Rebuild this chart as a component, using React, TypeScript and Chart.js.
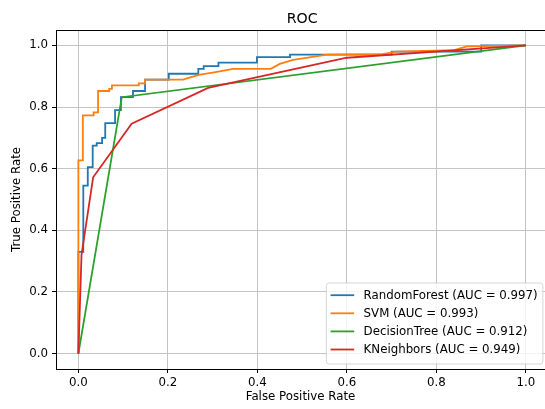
import React, { useEffect, useRef } from "react";
import { Chart, registerables } from "chart.js";

Chart.register(...registerables);

const TITLE = "ROC";
const X_LABEL = "False Positive Rate";
const Y_LABEL = "True Positive Rate";
const TICKS = [0, 0.2, 0.4, 0.6, 0.8, 1.0];
const AXIS_MIN = -0.05;
const AXIS_MAX = 1.05;
const X_VISIBLE_MAX = 1.0427; // the right part of the axes is cropped in the picture

const MODEL_NAMES = ["RandomForest", "SVM", "DecisionTree", "KNeighbors"];
const AUC_VALUES = [0.997, 0.993, 0.912, 0.949];
const COLORS = ["#1f77b4", "#ff7f0e", "#2ca02c", "#d62728"];

const RF_FPR = [0, 0, 0.011, 0.011, 0.021, 0.021, 0.032, 0.032, 0.041, 0.041, 0.053, 0.053, 0.06, 0.06, 0.082, 0.082, 0.095, 0.095, 0.122, 0.122, 0.149, 0.149, 0.202, 0.202, 0.268, 0.268, 0.28, 0.28, 0.313, 0.313, 0.399, 0.399, 0.473, 0.473, 0.7, 0.7, 0.9, 0.9, 1.0];
const RF_TPR = [0, 0.33, 0.33, 0.545, 0.545, 0.605, 0.605, 0.675, 0.675, 0.683, 0.683, 0.7, 0.7, 0.748, 0.748, 0.79, 0.79, 0.832, 0.832, 0.852, 0.852, 0.889, 0.889, 0.908, 0.908, 0.924, 0.924, 0.933, 0.933, 0.944, 0.944, 0.962, 0.962, 0.97, 0.97, 0.98, 0.98, 1.0, 1.0];

const SVM_FPR = [0, 0, 0.01, 0.01, 0.034, 0.034, 0.044, 0.044, 0.069, 0.069, 0.075, 0.075, 0.135, 0.135, 0.149, 0.149, 0.234, 0.25, 0.272, 0.3, 0.346, 0.43, 0.45, 0.48, 0.556, 0.68, 0.71, 0.84, 0.868, 1.0];
const SVM_TPR = [0, 0.627, 0.627, 0.773, 0.773, 0.783, 0.783, 0.852, 0.852, 0.859, 0.859, 0.87, 0.87, 0.877, 0.877, 0.889, 0.889, 0.896, 0.905, 0.912, 0.924, 0.924, 0.94, 0.953, 0.97, 0.972, 0.98, 0.985, 0.997, 1.0];

const DT_FPR = [0, 0.097, 1.0];
const DT_TPR = [0, 0.832, 1.0];

const KNN_FPR = [0, 0.007, 0.033, 0.119, 0.29, 0.6, 1.0];
const KNN_TPR = [0, 0.32, 0.572, 0.746, 0.862, 0.96, 1.0];

const FPRS = [RF_FPR, SVM_FPR, DT_FPR, KNN_FPR];
const TPRS = [RF_TPR, SVM_TPR, DT_TPR, KNN_TPR];

const FONT = "'DejaVu Sans', sans-serif";
const FS = 11.8;

const framePlugin = {
  id: "frameTitleLegend",
  afterDraw(chart: any) {
    const { ctx, chartArea } = chart;
    const { left, right, top, bottom } = chartArea;
    const fullRight = chart.scales.x.getPixelForValue(AXIS_MAX);
    ctx.save();
    ctx.strokeStyle = "#000";
    ctx.lineWidth = 1;
    ctx.beginPath();
    ctx.moveTo(left, Math.round(top) + 0.5);
    ctx.lineTo(right, Math.round(top) + 0.5);
    ctx.stroke();
    ctx.fillStyle = "#000";
    ctx.font = `14.2px ${FONT}`;
    ctx.textAlign = "center";
    ctx.textBaseline = "alphabetic";
    ctx.fillText(TITLE, (left + fullRight) / 2, top - 7.5);
    ctx.font = `${FS}px ${FONT}`;
    const labels = chart.data.datasets.map((d: any) => d.label as string);
    let maxW = 0;
    labels.forEach((l: string) => {
      maxW = Math.max(maxW, ctx.measureText(l).width);
    });
    const pad = 4.7;
    const handle = 23.6;
    const textPad = 9.4;
    const rowH = 18.1;
    const boxRight = fullRight - 5.9;
    const boxBottom = bottom - 5.5;
    const boxW = pad * 2 + handle + textPad + maxW;
    const boxH = 81;
    const boxLeft = boxRight - boxW;
    const boxTop = boxBottom - boxH;
    ctx.beginPath();
    if ((ctx as any).roundRect) {
      (ctx as any).roundRect(boxLeft + 0.5, boxTop + 0.5, boxW, boxH, 2.5);
    } else {
      ctx.rect(boxLeft + 0.5, boxTop + 0.5, boxW, boxH);
    }
    ctx.fillStyle = "rgba(255,255,255,0.8)";
    ctx.fill();
    ctx.strokeStyle = "rgba(204,204,204,0.8)";
    ctx.lineWidth = 1;
    ctx.stroke();
    ctx.textAlign = "left";
    ctx.textBaseline = "middle";
    labels.forEach((l: string, i: number) => {
      const cy = boxTop + 12.7 + i * rowH;
      ctx.strokeStyle = chart.data.datasets[i].borderColor;
      ctx.lineWidth = 1.8;
      ctx.beginPath();
      ctx.moveTo(boxLeft + pad, cy);
      ctx.lineTo(boxLeft + pad + handle, cy);
      ctx.stroke();
      ctx.fillStyle = "#000";
      ctx.fillText(l, boxLeft + pad + handle + textPad, cy + 0.5);
    });
    ctx.restore();
  },
};

export default function App() {
  const ref = useRef<HTMLCanvasElement | null>(null);

  useEffect(() => {
    if (!ref.current) return;
    const datasets = MODEL_NAMES.map((name, i) => ({
      label: `${name} (AUC = ${AUC_VALUES[i].toFixed(3)})`,
      data: FPRS[i].map((x, j) => ({ x, y: TPRS[i][j] })),
      borderColor: COLORS[i],
      backgroundColor: COLORS[i],
      borderWidth: 1.8,
      pointRadius: 0,
      tension: 0,
      fill: false,
      order: MODEL_NAMES.length - i,
    }));
    const tickSetter = (scale: any) => {
      scale.ticks = TICKS.map((v) => ({ value: v }));
    };
    const chart = new Chart(ref.current, {
      type: "line",
      data: { datasets },
      plugins: [framePlugin],
      options: {
        animation: false,
        responsive: false,
        layout: { padding: { top: 30, right: 0, left: 0, bottom: 0 } },
        plugins: {
          legend: { display: false },
          title: { display: false },
          tooltip: { enabled: false },
        },
        scales: {
          x: {
            type: "linear",
            min: AXIS_MIN,
            max: X_VISIBLE_MAX,
            afterBuildTicks: tickSetter,
            afterFit: (s: any) => {
              s.height = 40;
            },
            grid: {
              color: "#c4c4c4",
              lineWidth: 1,
              drawTicks: true,
              tickLength: 4,
              tickColor: "#000",
            },
            border: { display: true, color: "#000", width: 1 },
            ticks: {
              padding: 3,
              color: "#000",
              font: { family: FONT, size: FS },
              maxRotation: 0,
              callback: (v: any) => Number(v).toFixed(1),
            },
            title: {
              display: true,
              text: X_LABEL,
              color: "#000",
              font: { family: FONT, size: FS },
              padding: { top: 4, bottom: 5 },
            },
          },
          y: {
            type: "linear",
            min: AXIS_MIN,
            max: AXIS_MAX,
            afterBuildTicks: tickSetter,
            afterFit: (s: any) => {
              s.width = 56;
            },
            grid: {
              color: "#c4c4c4",
              lineWidth: 1,
              drawTicks: true,
              tickLength: 4,
              tickColor: "#000",
            },
            border: { display: true, color: "#000", width: 1 },
            ticks: {
              padding: 4,
              color: "#000",
              font: { family: FONT, size: FS },
              callback: (v: any) => Number(v).toFixed(1),
            },
            title: {
              display: true,
              text: Y_LABEL,
              color: "#000",
              font: { family: FONT, size: FS },
              padding: { top: 10, bottom: 4 },
            },
          },
        },
      },
    });
    return () => chart.destroy();
  }, []);

  return (
    <div
      style={{
        position: "fixed",
        left: 0,
        top: 0,
        width: 545,
        height: 409,
        overflow: "hidden",
        background: "#fff",
      }}
    >
      <canvas ref={ref} width={545} height={409} style={{ width: 545, height: 409, display: "block" }} />
    </div>
  );
}
